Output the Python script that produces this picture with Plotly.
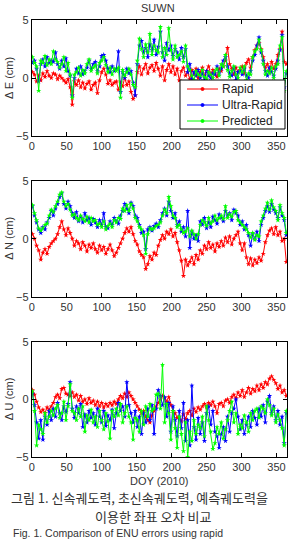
import plotly.graph_objects as go

doy = list(range(1, 366, 3))  # days of year sampled (1, 4, ..., 364)

e_rapid = [0.5, 0.3, -0.3, 0.2, -0.2, 0.4, 0.1, 0.6, 0.2, 0.0,
           0.4, 0.3, -0.1, 0.2, 0.0, -0.2, -0.4, -0.1, -0.8, -2.3,
           -0.3, -0.6, -0.2, -0.8, -0.4, -0.9, -0.5, -0.3, -1.0, -0.6,
           -0.4, -1.3, -0.2, 0.5, 0.8, 0.3, -0.5, -0.2, -0.6, -0.4,
           -0.3, -1.0, -0.4, -0.7, 0.0, -0.6, -0.3, -1.2, -1.8, -1.5,
           0.5, 1.0, 0.3, 0.8, 1.2, 0.4, 0.9, 1.1, 0.6, 1.3,
           0.8, 0.2, 1.0, -0.2, 0.7, 1.2, 0.5, 1.0, 0.3, 0.8,
           -0.2, 0.6, 0.9, 0.2, 0.5, -0.1, 0.7, 0.3, 0.8, 0.0,
           0.5, 0.9, 0.2, 0.6, 1.0, 0.3, 0.7, 0.4, 0.1, 0.8,
           0.6, 1.0, 1.5, 2.6, 1.2, 0.8, 0.3, 0.9, 0.5, 0.7,
           1.0, 0.4, 1.3, 1.6, 0.9, 1.8, 2.4, 2.8, 3.0, 2.5,
           1.8, 0.9, 1.2, 0.6, 1.4, 0.8, 1.2, 2.0, 2.5, 4.0,
           1.4, 1.2]
e_ultra = [1.3, 1.5, 0.8, -0.3, 1.2, 1.6, 1.0, 1.8, 1.3, 1.5,
           1.4, 2.2, 1.2, 0.8, 1.5, 1.0, 1.7, 0.6, 0.2, -1.5,
           0.0, 0.8, 0.4, 1.0, 0.3, 0.6, 0.9, 1.5, 0.8, 1.2,
           1.4, 0.6, 1.0, 1.9, 2.0, 1.5, 0.8, 0.5, 1.0, 0.6,
           0.8, 2.3, -1.2, 0.5, 0.0, 0.8, 0.4, 0.6, -0.4, -1.5,
           1.2, 2.8, 3.2, 2.2, 2.6, 1.8, 2.9, 2.4, 3.3, 2.0,
           2.7, 4.0, 2.2, 1.5, 3.0, 2.4, 2.8, 1.9, 2.5, 2.2,
           1.6, 2.6, 1.8, 2.5, 0.5, 1.2, -0.1, 0.5, 0.2, 0.7,
           0.0, 0.4, -0.2, 0.6, 0.2, 0.0, 0.4, 0.3, 1.0, 0.4,
           0.8, 1.5, 1.8, 1.0, 0.4, 0.2, 0.9, -0.2, 0.5, 0.6,
           0.3, 0.8, 0.2, 0.0, 0.6, 1.5, 2.0, 2.8, 3.5, 2.2,
           1.5, 0.6, 0.2, 0.9, 0.5, 0.2, 0.8, 1.5, 2.4, 3.7,
           -0.8, 0.4]
e_pred = [1.8, 1.3, 1.0, -1.1, 1.5, 1.3, 1.9, 1.1, 1.6, 1.2,
          2.3, 1.6, 1.4, 0.9, 1.2, 1.8, 0.6, 1.3, 0.3, -1.7,
          0.3, 0.5, 0.9, 0.2, 0.7, 0.4, 1.2, 1.6, 0.6, 0.9,
          1.1, 0.4, 1.3, 1.5, 1.8, 1.1, 0.5, 0.9, 0.3, 0.8,
          0.6, 0.9, -1.7, 0.7, 0.2, 0.5, 0.8, 0.3, -0.6, -0.8,
          1.5, 3.4, 2.5, 1.8, 2.9, 2.2, 3.8, 2.0, 2.8, 2.4,
          2.2, 4.4, 1.8, 2.6, 2.0, 4.3, 2.4, 1.6, 2.8, 1.8,
          2.0, 2.3, 1.4, 2.8, 1.0, 0.7, 0.2, -0.2, 0.6, 0.3,
          0.2, 0.7, 0.1, -0.1, 0.5, 0.3, 0.0, 0.6, 0.8, 0.2,
          1.2, 1.0, 2.0, 0.7, 0.1, 0.6, 1.0, 0.3, 0.0, 0.9,
          0.5, 1.0, -0.2, 0.4, 0.3, 1.8, 2.3, 2.5, 3.3, 2.4,
          1.2, 0.3, 0.6, 0.4, 0.9, 0.0, 1.0, 1.2, 2.8, 3.5,
          -1.1, 0.6]

n_rapid = [0.4, 0.0, -0.6, -1.0, -1.8, -1.2, -0.9, -1.3, -0.7, -0.4,
           -0.2, 0.0, 0.4, 1.0, 1.5, 0.8, 0.3, 0.9, 0.5, 0.0,
           -0.6, -0.2, -0.4, -0.9, -0.3, -0.6, -1.1, -0.5, -0.8, -0.4,
           -0.9, -1.2, -0.6, -1.0, -0.7, -1.3, -0.9, -0.5, -1.0, -1.5,
           -1.2, -0.8, -0.4, 0.0, 0.5, 0.9, 0.6, 1.0, 0.4, -0.2,
           -0.5, -1.1, -1.4, -1.6, -2.6, -2.2, -1.5, -1.8, -1.2, -1.4,
           -0.6, -0.1, 0.3, 0.0, 0.6, 0.4, 0.8, 0.2, 0.5, -0.3,
           -1.0, -1.9, -3.2, -1.8, -2.3, -2.0, -1.6, -2.2, -1.4, -1.8,
           -1.0, -1.3, -0.6, -0.9, -0.3, -0.8, -0.5, -1.1, -0.4, -0.7,
           -0.2, -0.6, 0.1, -0.3, 0.2, -0.5, 0.0, 0.3, 0.6, -0.4,
           -1.0, -0.4, -1.6, -2.2, -1.7, -2.3, -1.8, -2.1, -1.6, -1.9,
           -1.3, -0.3, 0.3, 0.7, 0.9, 0.4, 1.0, 0.3, 0.6, -0.2,
           0.0, -2.0]
n_ultra = [2.8, 2.0, 1.4, 0.8, 0.5, 1.0, 0.8, 1.4, 1.8, 2.4,
           2.0, 2.6, 3.0, 3.6, 3.9, 3.0, 2.6, 3.2, 2.8, 2.2,
           1.8, 2.3, 1.5, 1.9, 1.4, 2.2, 1.6, 1.8, 1.2, 1.7,
           1.4, 1.0, 1.6, 1.2, 2.2, 1.0, 0.9, 1.5, 1.2, 1.8,
           1.5, 1.3, 2.0, 2.4, 3.0, 2.6, 2.2, 3.1, 2.8, 2.0,
           1.8, 1.2, 0.5, 0.6, -0.9, 0.8, 1.0, 0.7, 1.1, 1.3,
           1.0, 1.6, 2.2, 2.6, 2.0, 3.2, 2.4, 1.8, 2.2, 1.2,
           1.5, 0.6, 1.0, 0.2, 2.4, -0.8, 0.6, 0.0, 0.3, -0.2,
           1.5, 1.2, 1.8, 0.9, 1.4, 1.0, 1.9, 1.6, 1.3, 2.1,
           1.8, 1.5, 2.4, 2.0, 2.2, 1.6, 2.5, 2.2, 2.0, 1.2,
           1.5, 0.8, 1.2, 0.3, -0.6, 0.4, 0.0, 0.6, -0.2, 1.2,
           1.8, 2.4, 2.8, 2.3, 3.0, 2.5, 2.2, 1.8, 2.7, 2.0,
           1.6, 0.3]
n_pred = [2.9, 2.2, 1.6, 0.9, 0.7, 0.9, 1.2, 1.3, 2.0, 2.5,
          2.3, 2.8, 3.2, 3.8, 4.0, 3.2, 2.8, 3.0, 2.5, 2.0,
          2.1, 1.8, 1.6, 2.0, 1.7, 1.5, 1.9, 1.4, 1.8, 1.5,
          1.6, 1.2, 1.3, 1.0, 1.5, 0.8, 1.1, 1.3, 1.0, 1.6,
          1.4, 1.8, 1.7, 2.6, 2.4, 2.9, 2.4, 3.0, 2.6, 1.8,
          1.5, 1.0, 0.8, 0.3, -1.3, 0.4, 0.9, 0.8, 0.9, 1.1,
          1.2, 1.4, 2.0, 2.5, 2.2, 3.6, 2.8, 2.0, 1.8, 1.0,
          1.2, 0.8, 0.5, 0.6, 0.9, 0.2, 0.7, 0.4, 0.0, 0.4,
          1.2, 1.6, 1.4, 1.1, 1.8, 1.3, 1.5, 2.0, 1.6, 1.8,
          2.0, 1.7, 2.8, 1.8, 2.1, 1.9, 2.3, 2.4, 1.6, 1.4,
          1.2, 1.0, 0.8, 0.5, 0.1, 0.5, -0.1, 0.3, 0.2, 1.5,
          2.0, 2.6, 3.1, 2.5, 3.3, 2.7, 2.4, 1.6, 2.9, 2.2,
          1.8, 0.5]

u_rapid = [0.8, 0.4, -0.2, -0.7, -1.1, -0.9, -1.2, -0.7, -0.9, -0.6,
           -0.3, 0.2, 0.4, 0.1, 0.9, 1.0, 0.5, 0.4, 0.3, 0.6,
           0.2, 0.4, -0.1, 0.3, -0.2, 0.0, -0.4, 0.1, -0.3, -0.1,
           -0.5, -0.2, -0.6, -0.3, -0.7, -0.4, -0.6, -0.3, -0.5, -0.2,
           -0.4, 0.0, 0.3, 0.1, 0.5, 0.2, 0.6, 0.3, 0.0, -0.3,
           -0.6, -0.9, -1.2, -1.0, -1.5, -1.8, -2.0, -1.4, -1.0, -0.6,
           -0.3, 0.0, 0.3, 0.1, -0.2, 0.2, -0.5, -1.0, -1.2, -1.6,
           -1.5, -1.9, -1.3, -1.7, -1.2, -1.0, -1.4, -0.8, -1.1, -0.7,
           -0.9, -0.6, -0.4, -0.7, -0.3, -0.5, -0.2, -0.6, -1.2, -0.4,
           -0.3, -0.6, -0.1, 0.0, -0.3, 0.2, 0.4, 0.1, 0.6, 0.3,
           0.8, 0.2, 0.6, 1.0, 0.5, 0.9, 0.7, 1.2, 0.8, 1.3,
           1.0, 1.5, 1.3, 1.8, 2.0, 1.7, 1.4, 0.9, 1.2, 0.6,
           0.8, 0.3]
u_ultra = [0.5, -0.5, -2.0, -3.4, -1.8, -3.5, -1.5, -2.2, -1.0, -1.8,
           -0.8, -1.5, -0.3, -1.2, -1.8, -0.6, -1.1, -0.4, 1.5, -0.8,
           -1.6, -0.6, -1.2, -0.4, -2.4, -1.3, -2.0, -1.0, -1.6, -1.2,
           -2.2, -0.8, -1.5, -2.0, -1.0, -2.3, -1.4, -1.8, -0.9, -2.5,
           -1.2, -0.3, -1.0, -0.6, -1.5, 1.5, -0.5, -1.2, -2.0, -1.0,
           -2.4, -1.5, -3.0, -1.2, -2.0, -0.8, -1.8, -0.5, -3.0, -0.8,
           0.8, 0.3, -0.5, 0.2, -1.5, -0.3, -2.8, -0.6, -1.8, -3.2,
           -1.0, -2.5, -0.3, -3.6, -1.8, -4.0, 1.2, -2.4, -3.5, -1.6,
           -3.0, -2.0, -3.6, -1.2, -0.6, -2.2, -1.0, -2.8, -3.2, -4.2,
           -3.0, -2.4, -3.6, -1.5, -2.8, -1.2, -0.8, 0.0, -1.5, -2.6,
           -1.8, -3.0, -2.2, -1.5, -2.4, -1.0, -1.6, -2.2, -0.8, -1.5,
           -0.5, -2.0, -0.2, 0.3, -1.2, -0.6, -1.8, -1.0, -2.2, -1.5,
           -3.8, -1.2]
u_pred = [0.7, -1.0, -4.0, -2.2, -2.6, -3.0, -1.2, -2.0, -1.5, -1.0,
          -1.4, -0.8, -0.5, -1.6, -1.2, -0.2, -1.8, -0.6, 1.3, -1.0,
          -1.2, -1.8, -0.8, -1.5, -0.6, -2.8, -1.4, -1.8, -0.9, -2.0,
          -1.5, -2.4, -1.0, -1.8, -2.6, -1.2, -1.9, -3.4, -1.0, -1.5,
          -0.8, -1.4, -0.4, -2.0, -1.2, -0.6, -1.5, -2.0, -3.5, -1.6,
          -1.8, -2.8, -1.0, -2.2, -0.6, -1.5, -0.4, -1.0, -0.8, 0.4,
          0.5, -0.8, 3.0, -2.0, -0.4, -1.2, -3.5, -1.0, -2.5, -4.2,
          -1.5, -3.0, -4.5, -2.0, -5.0, -2.8, -3.6, -1.8, -3.0, -2.2,
          -2.5, -1.5, -3.2, -0.6, -1.8, -2.8, -4.3, -3.8, -2.4, -3.0,
          -2.0, -3.4, -2.6, -1.8, -1.0, -0.2, -2.0, -1.2, -3.0, -2.2,
          -2.5, -1.4, -2.0, -2.8, -1.2, -1.8, -1.0, -0.8, -1.6, -0.6,
          -0.8, -1.2, 0.0, -0.5, -1.4, -0.8, -2.0, -1.3, -1.8, -2.5,
          -4.0, -1.0]

series_names = ["Rapid", "Ultra-Rapid", "Predicted"]
series_colors = ["#ff0000", "#0000ff", "#00ff00"]
panel_labels = ["Δ E (cm)", "Δ N (cm)", "Δ U (cm)"]
panel_data = [[e_rapid, e_ultra, e_pred],
              [n_rapid, n_ultra, n_pred],
              [u_rapid, u_ultra, u_pred]]
x_ticks = [0, 50, 100, 150, 200, 250, 300, 350]
y_ticks = [-5, 0, 5]

W, H = 290, 540


def px_x(p):
    return p / W


def px_y(p):
    return 1 - p / H


FONT = "Liberation Sans, Arial, sans-serif"
KFONT = "Noto Sans CJK KR"
TXT = "#333333"

x_dom = [px_x(31.7), px_x(287)]
panel_px = [(20, 136), (180.7, 296.7), (341.7, 457)]

fig = go.Figure()
layout = dict(
    width=W, height=H,
    margin=dict(l=0, r=0, t=0, b=0, autoexpand=False),
    paper_bgcolor="white", plot_bgcolor="white",
    showlegend=False,
    font=dict(family=FONT, size=11, color=TXT),
)

annotations = []
shapes = []


def label(text, x, y, size=11, family=FONT, xanchor="center", yanchor="middle",
          color=TXT, angle=0):
    return dict(text=text, x=px_x(x), y=px_y(y), xref="paper", yref="paper",
                xanchor=xanchor, yanchor=yanchor, showarrow=False, borderpad=0,
                textangle=angle, font=dict(family=family, size=size, color=color))


for i, (ylabel, data) in enumerate(zip(panel_labels, panel_data)):
    ax = "" if i == 0 else str(i + 1)
    for name, col, vals in zip(series_names, series_colors, data):
        fig.add_trace(go.Scatter(
            x=doy, y=vals, mode="lines+markers", name=name,
            line=dict(color=col, width=1),
            marker=dict(color=col, size=4, symbol="star"),
            xaxis="x" + ax, yaxis="y" + ax,
        ))
    common = dict(
        showline=True, linecolor="black", linewidth=1, mirror="ticks",
        ticks="inside", ticklen=4, tickcolor="black", showgrid=False,
        zeroline=False, automargin=False,
        tickfont=dict(family=FONT, size=11, color=TXT),
    )
    top, bot = panel_px[i]
    layout["xaxis" + ax] = dict(domain=x_dom, range=[0, 365], tickvals=x_ticks,
                                anchor="y" + ax, **common)
    layout["yaxis" + ax] = dict(domain=[px_y(bot), px_y(top)], range=[-5, 5],
                                tickvals=y_ticks, anchor="x" + ax, **common)
    annotations.append(label(ylabel, 9, (top + bot) / 2, angle=-90))

annotations += [
    label("SUWN", 158, 8),
    label("DOY (2010)", 159, 481),
    label("그림 1. 신속궤도력, 초신속궤도력, 예측궤도력을", 10, 497.5, size=13,
          family=KFONT, xanchor="left"),
    label("이용한 좌표 오차 비교", 153, 516.5, size=13, family=KFONT),
    label("Fig. 1. Comparison of ENU errors using rapid", 12, 540, size=10.5,
          xanchor="left", yanchor="bottom"),
]

# legend box drawn in the first panel's upper-right area
LB = dict(x0=180, x1=285, y0=80, y1=129)
shapes.append(dict(type="rect", xref="paper", yref="paper",
                   x0=px_x(LB["x0"]), x1=px_x(LB["x1"]),
                   y0=px_y(LB["y1"]), y1=px_y(LB["y0"]),
                   line=dict(color="black", width=1), fillcolor="white", layer="above"))
row_y = [89, 105, 121]
for name, col, ry in zip(series_names, series_colors, row_y):
    shapes.append(dict(type="line", xref="paper", yref="paper",
                       x0=px_x(187), x1=px_x(218), y0=px_y(ry), y1=px_y(ry),
                       line=dict(color=col, width=1), layer="above"))
    shapes.append(dict(type="circle", xref="paper", yref="paper",
                       x0=px_x(201), x1=px_x(204), y0=px_y(ry + 1.5), y1=px_y(ry - 1.5),
                       line=dict(color=col, width=1), fillcolor=col, layer="above"))
    annotations.append(label(name, 221, ry, size=12, xanchor="left", color="#222222"))

layout["annotations"] = annotations
layout["shapes"] = shapes
fig.update_layout(**layout)
fig.write_html("out.html")
